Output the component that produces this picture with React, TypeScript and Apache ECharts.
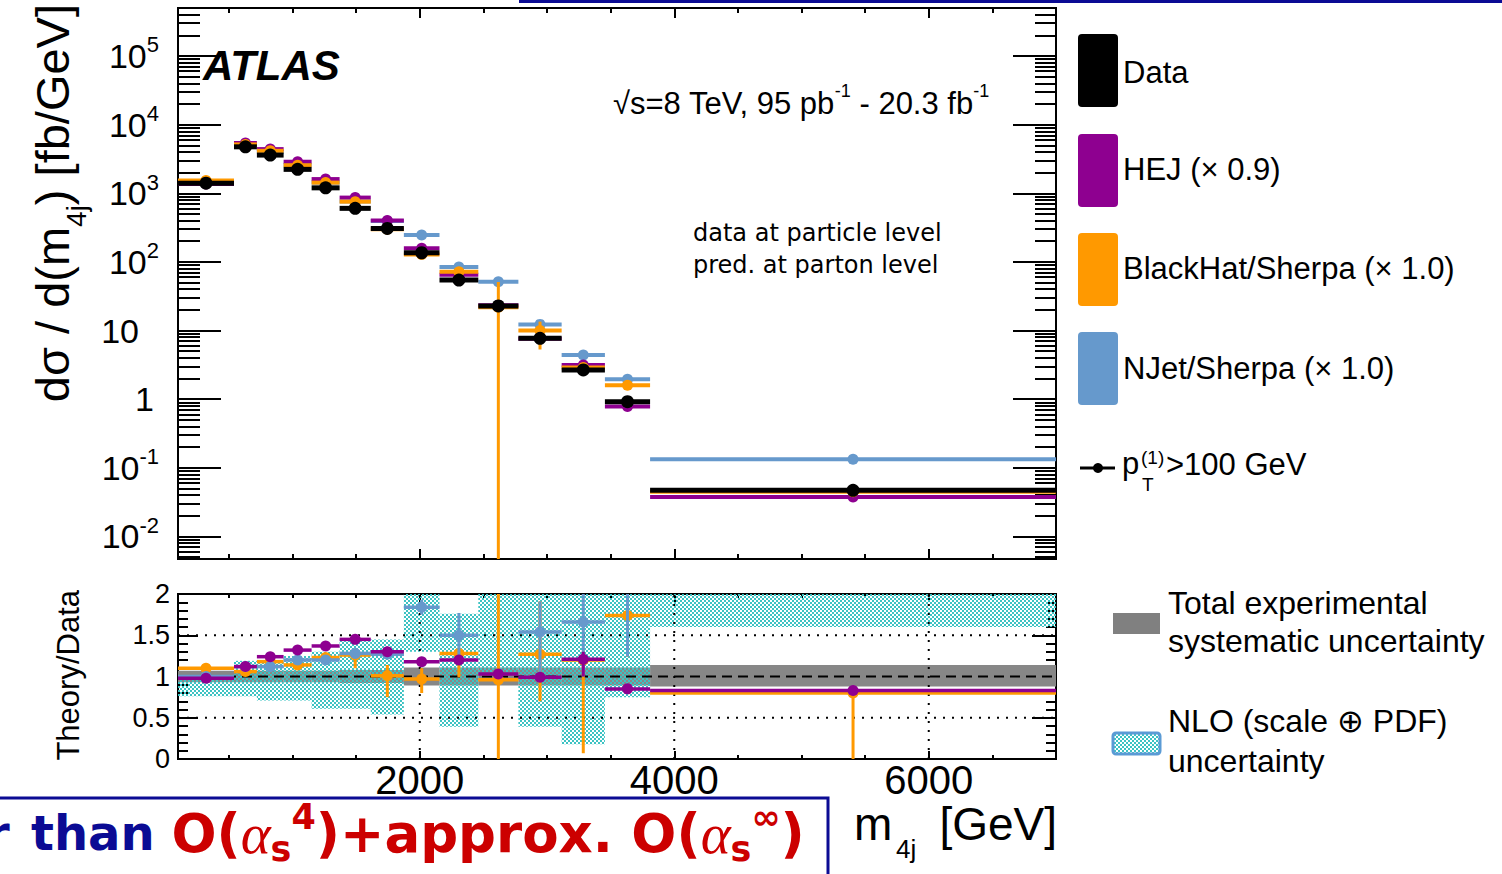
import React, { useEffect, useRef } from 'react';
import * as echarts from 'echarts';

// ---------------- data ----------------
const binEdges = [100, 540, 720, 930, 1150, 1370, 1615, 1875, 2155, 2460, 2775, 3115, 3455, 3810, 7000];

const dataXsec = [1400, 4750, 3600, 2230, 1200, 603, 308, 136, 54.5, 22.8, 7.7, 2.67, 0.92, 0.047];
const hejXsec = [1360, 5400, 4400, 2880, 1610, 865, 400, 158, 65, 23.4, 7.6, 3.16, 0.78, 0.0375];
const blackhatXsec = [1530, 5150, 4150, 2560, 1430, 755, 300, 128, 72, 21.8, 10.0, 2.9, 1.6, 0.045];
const njetXsec = [1400, 5150, 3980, 2600, 1430, 760, 395, 246, 84, 51.5, 12.3, 4.4, 1.95, 0.133];
const blackhatXsecErrLo = [null, null, null, null, null, null, null, null, 62, 0.000001, 5.3, null, null, null];
const blackhatXsecErrHi = [null, null, null, null, null, null, null, null, 76, 51, 13.5, null, null, null];

const hejRatio = [0.98, 1.12, 1.24, 1.32, 1.37, 1.45, 1.3, 1.18, 1.2, 1.03, 0.99, 1.21, 0.85, 0.83];
const hejRatioErrLo = [null, null, null, null, null, null, null, null, null, null, null, 1.0, null, null];
const hejRatioErrHi = [null, null, null, null, null, null, null, null, null, null, null, 1.3, null, null];
const blackhatRatio = [1.1, 1.06, 1.18, 1.14, 1.23, 1.26, 1.01, 0.97, 1.28, 0.96, 1.27, 1.2, 1.74, 0.8];
const blackhatRatioErrLo = [null, null, null, null, null, 1.1, 0.75, 0.8, 0.99, 0.0, 0.7, 0.07, 1.24, 0.0];
const blackhatRatioErrHi = [null, null, null, null, null, 1.3, 1.14, 1.1, 1.32, 2.1, 1.91, 1.3, 2.1, 0.82];
const njetRatio = [1.0, 1.12, 1.12, 1.2, 1.2, 1.28, 1.27, 1.84, 1.5, 2.26, 1.54, 1.66, 2.12, 2.8];
const njetRatioErrLo = [null, null, null, null, null, null, null, 1.75, 1.2, null, 1.05, 1.0, 1.24, null];
const njetRatioErrHi = [null, null, null, null, null, null, null, 1.93, 1.77, null, 1.91, 2.1, 3.0, null];

const expSystLo = [0.93, 0.93, 0.93, 0.93, 0.93, 0.92, 0.92, 0.89, 0.89, 0.89, 0.89, 0.89, 0.89, 0.88];
const expSystHi = [1.07, 1.07, 1.07, 1.07, 1.07, 1.08, 1.08, 1.11, 1.11, 1.11, 1.11, 1.11, 1.11, 1.14];
const nloLo = [0.76, 0.76, 0.71, 0.71, 0.61, 0.61, 0.54, 1.3, 0.39, 1.05, 0.39, 0.18, 0.75, 1.6];
const nloHi = [1.0, 1.19, 1.19, 1.25, 1.3, 1.45, 1.45, 2.5, 1.76, 2.5, 2.5, 2.5, 2.5, 2.5];

const xRange = [100, 7000];
const yRange = [0.0047, 500000];
const ratioRange = [0, 2];
const xMajorTicks = [2000, 4000, 6000];
const xMinorTicks = [500, 1000, 1500, 2500, 3000, 3500, 4500, 5000, 5500, 6500];
const yDecadeExponents = [-2, -1, 0, 1, 2, 3, 4, 5];
const ratioMajorTicks = [0, 0.5, 1, 1.5, 2];
const ratioMinorTicks = [0.1, 0.2, 0.3, 0.4, 0.6, 0.7, 0.8, 0.9, 1.1, 1.2, 1.3, 1.4, 1.6, 1.7, 1.8, 1.9];
const ratioGuideX = [2000, 4000, 6000];
const ratioGuideY = [0.5, 1.5];
const ratioReference = [1];

// ---------------- style ----------------
const FONT = '"Liberation Sans", Arial, Helvetica, sans-serif';
const HAND = '"DejaVu Sans", sans-serif';
const C_DATA = '#000000';
const C_HEJ = '#8e0090';
const C_BH = '#ff9900';
const C_NJ = '#6699cc';
const C_SYST = '#878787';
const C_HATCH = '#3cc3c3';
const C_BLUE = '#0b0b94';
const C_RED = '#cc0000';

const G0 = { left: 178, top: 8, width: 878, height: 551 };
const G1 = { left: 178, top: 594, width: 878, height: 165 };

const yLogMin = Math.log10(yRange[0]);
const yLogMax = Math.log10(yRange[1]);
const yMinorLog: number[] = [];
for (let e = -3; e <= 5; e++) {
  for (let k = 2; k <= 9; k++) {
    const v = Math.log10(k) + e;
    if (v > yLogMin && v < yLogMax) yMinorLog.push(v);
  }
}

function makeHatch(): any {
  const c = document.createElement('canvas');
  c.width = 4;
  c.height = 4;
  const ctx = c.getContext('2d')!;
  ctx.fillStyle = C_HATCH;
  ctx.fillRect(0, 0, 2, 2);
  ctx.fillRect(2, 2, 2, 2);
  return { image: c, repeat: 'repeat', imageWidth: 4, imageHeight: 4 };
}

function binSeries(o: any) {
  const tf = (v: number) => (o.log ? Math.log10(v) : v);
  return {
    type: 'custom',
    name: o.name,
    xAxisIndex: o.xAxisIndex,
    yAxisIndex: o.yAxisIndex,
    z: o.z,
    clip: true,
    silent: true,
    data: o.values.map((v: number, i: number) => [(binEdges[i] + binEdges[i + 1]) / 2, tf(v)]),
    encode: { x: 0, y: 1 },
    renderItem: (params: any, api: any) => {
      const i = params.dataIndex;
      const xc = (binEdges[i] + binEdges[i + 1]) / 2;
      const yv = tf(o.values[i]);
      const pL = api.coord([binEdges[i], yv]);
      const pR = api.coord([binEdges[i + 1], yv]);
      const pC = api.coord([xc, yv]);
      const children: any[] = [];
      if (o.errLo && o.errLo[i] != null && o.errHi[i] != null) {
        const a = api.coord([xc, tf(o.errLo[i])]);
        const b = api.coord([xc, tf(o.errHi[i])]);
        children.push({ type: 'line', shape: { x1: a[0], y1: a[1], x2: b[0], y2: b[1] }, style: { stroke: o.color, lineWidth: o.errWidth } });
      }
      children.push({ type: 'line', shape: { x1: pL[0], y1: pL[1], x2: pR[0], y2: pR[1] }, style: { stroke: o.color, lineWidth: o.barWidth } });
      children.push({ type: 'circle', shape: { cx: pC[0], cy: pC[1], r: o.radius }, style: { fill: o.color } });
      return { type: 'group', children };
    },
  };
}

function bandSeries(name: string, lo: number[], hi: number[], fill: any, z: number) {
  return {
    type: 'custom',
    name,
    xAxisIndex: 4,
    yAxisIndex: 4,
    z,
    clip: true,
    silent: true,
    data: lo.map((v, i) => [binEdges[i], v, binEdges[i + 1], hi[i]]),
    encode: { x: [0, 2], y: [1, 3] },
    renderItem: (params: any, api: any) => {
      const i = params.dataIndex;
      const p1 = api.coord([binEdges[i], hi[i]]);
      const p2 = api.coord([binEdges[i + 1], lo[i]]);
      return {
        type: 'rect',
        shape: { x: p1[0], y: p1[1], width: p2[0] - p1[0], height: p2[1] - p1[1] },
        style: { fill },
      };
    },
  };
}

function guideSeries(name: string, values: number[], vertical: boolean, dash: number[], z: number) {
  return {
    type: 'custom',
    name,
    xAxisIndex: 4,
    yAxisIndex: 4,
    z,
    clip: true,
    silent: true,
    data: values.map((v) => (vertical ? [v, 1] : [xRange[0], v])),
    encode: { x: 0, y: 1 },
    renderItem: (params: any, api: any) => {
      const v = values[params.dataIndex];
      const a = vertical ? api.coord([v, ratioRange[0]]) : api.coord([xRange[0], v]);
      const b = vertical ? api.coord([v, ratioRange[1]]) : api.coord([xRange[1], v]);
      return {
        type: 'line',
        shape: { x1: a[0], y1: a[1], x2: b[0], y2: b[1] },
        style: { stroke: '#000', lineWidth: 2, lineDash: dash },
      };
    },
  };
}

function xAx(gridIndex: number, position: string, ticks: number[], len: number, labels?: boolean) {
  return {
    type: 'value',
    gridIndex,
    position,
    min: xRange[0],
    max: xRange[1],
    axisLine: { show: false, onZero: false },
    axisTick: { show: true, inside: true, length: len, customValues: ticks, lineStyle: { color: '#000', width: 2 } },
    axisLabel: labels
      ? { show: true, customValues: xMajorTicks, formatter: (v: number) => String(v), fontSize: 40, fontFamily: FONT, color: '#000', margin: 1 }
      : { show: false },
    splitLine: { show: false },
  };
}

function yAx(gridIndex: number, position: string, min: number, max: number, ticks: number[], len: number, label?: any) {
  return {
    type: 'value',
    gridIndex,
    position,
    min,
    max,
    axisLine: { show: false, onZero: false },
    axisTick: { show: true, inside: true, length: len, customValues: ticks, lineStyle: { color: '#000', width: 2 } },
    axisLabel: label || { show: false },
    splitLine: { show: false },
  };
}

function txt(x: number, y: number, text: string, size: number, extra: any = {}, family = FONT) {
  return {
    type: 'text',
    x,
    y,
    silent: true,
    style: { text, fontSize: size, fontFamily: family, fill: '#000', verticalAlign: 'middle', align: 'left', ...extra },
  };
}

function buildOption(hatch: any) {
  const legendBoxes = [
    { y: 34, color: C_DATA, label: 'Data', ty: 72 },
    { y: 134, color: C_HEJ, label: 'HEJ (× 0.9)', ty: 169 },
    { y: 233, color: C_BH, label: 'BlackHat/Sherpa (× 1.0)', ty: 268 },
    { y: 332, color: C_NJ, label: 'NJet/Sherpa (× 1.0)', ty: 368 },
  ];
  const graphics: any[] = [
    { type: 'line', silent: true, shape: { x1: 519, y1: 1.5, x2: 1502, y2: 1.5 }, style: { stroke: C_BLUE, lineWidth: 3 } },
    txt(203, 65, 'ATLAS', 42, { fontWeight: 'bold', fontStyle: 'italic' }),
    {
      type: 'text', x: 613, y: 103, silent: true,
      style: {
        text: '{a|√s=8 TeV, 95 pb}{u|-1}{a| - 20.3 fb}{u|-1}',
        verticalAlign: 'middle',
        rich: {
          a: { fontSize: 31, fontFamily: FONT, fill: '#000', color: '#000' },
          u: { fontSize: 18, fontFamily: FONT, fill: '#000', color: '#000', padding: [0, 0, 24, 0] },
        },
      },
    },
    txt(693, 233, 'data at particle level', 24, {}, HAND),
    txt(693, 265, 'pred. at parton level', 24, {}, HAND),
    {
      type: 'text', x: 52, y: 4, rotation: Math.PI / 2, silent: true,
      style: {
        text: '{a|dσ / d(m}{s|4j}{a|) [fb/GeV]}',
        align: 'right', verticalAlign: 'middle',
        rich: {
          a: { fontSize: 47, fontFamily: FONT, fill: '#000', color: '#000' },
          s: { fontSize: 28, fontFamily: FONT, fill: '#000', color: '#000', lineHeight: 28, padding: [48, 0, 0, 0] },
        },
      },
    },
    { ...txt(68, 590, 'Theory/Data', 31, { align: 'right' }), rotation: Math.PI / 2 },
    txt(854, 824, 'm', 46),
    txt(896, 849, '4j', 26),
    txt(1057, 824, '[GeV]', 46, { align: 'right' }),
  ];

  legendBoxes.forEach((b) => {
    graphics.push({ type: 'rect', silent: true, shape: { x: 1078, y: b.y, width: 40, height: 73, r: 4 }, style: { fill: b.color } });
    graphics.push(txt(1123, b.ty, b.label, 31));
  });
  graphics.push({ type: 'line', silent: true, shape: { x1: 1080, y1: 468, x2: 1115, y2: 468 }, style: { stroke: '#000', lineWidth: 3 } });
  graphics.push({ type: 'circle', silent: true, shape: { cx: 1098, cy: 468, r: 5 }, style: { fill: '#000' } });
  graphics.push(txt(1122, 463, 'p', 31));
  graphics.push(txt(1141, 457, '(1)', 19));
  graphics.push(txt(1142, 484, 'T', 19));
  graphics.push(txt(1166, 464, '>100 GeV', 31));

  graphics.push({ type: 'rect', silent: true, shape: { x: 1113, y: 613, width: 47, height: 21 }, style: { fill: '#808080' } });
  graphics.push(txt(1168, 603, 'Total experimental', 32));
  graphics.push(txt(1168, 641, 'systematic uncertainty', 32));
  graphics.push({ type: 'rect', silent: true, shape: { x: 1113, y: 733, width: 47, height: 21, r: 3 }, style: { fill: hatch, stroke: '#5b9bd5', lineWidth: 3 } });
  graphics.push(txt(1168, 721, 'NLO (scale ⊕ PDF)', 32));
  graphics.push(txt(1168, 761, 'uncertainty', 32));

  // bottom box
  graphics.push({ type: 'rect', silent: true, shape: { x: -4, y: 798, width: 832, height: 90 }, style: { fill: 'none', stroke: C_BLUE, lineWidth: 3 } });
  graphics.push({
    type: 'text', x: -14, y: 833, silent: true,
    style: { text: 'r', fontSize: 48, fontWeight: 'bold', fontFamily: HAND, fill: C_BLUE, verticalAlign: 'middle' },
  });
  graphics.push({
    type: 'text', x: 31, y: 833, silent: true,
    style: {
      text: '{b|than }{r|O(}{g|α}{sub|s}{sup|4}{r|)+approx. O(}{g|α}{sub|s}{sup|∞}{r|)}',
      verticalAlign: 'middle',
      rich: {
        b: { fontSize: 48, fontWeight: 'bold', fontFamily: HAND, fill: C_BLUE, color: C_BLUE },
        r: { fontSize: 53, fontWeight: 'bold', fontFamily: HAND, fill: C_RED, color: C_RED },
        g: { fontSize: 57, fontStyle: 'italic', fontFamily: '"Liberation Serif", serif', fill: C_RED, color: C_RED },
        sub: { fontSize: 35, fontWeight: 'bold', fontFamily: HAND, fill: C_RED, color: C_RED, lineHeight: 35, padding: [32, 0, 0, 0] },
        sup: { fontSize: 35, fontWeight: 'bold', fontFamily: HAND, fill: C_RED, color: C_RED, lineHeight: 35, padding: [0, 0, 32, 0] },
      },
    },
  });

  const series: any[] = [
    binSeries({ name: 'NJet/Sherpa (× 1.0)', values: njetXsec, color: C_NJ, barWidth: 4, radius: 5.5, errWidth: 3, xAxisIndex: 0, yAxisIndex: 0, z: 4, log: true }),
    binSeries({ name: 'HEJ (× 0.9)', values: hejXsec, color: C_HEJ, barWidth: 4, radius: 5.5, errWidth: 3, xAxisIndex: 0, yAxisIndex: 0, z: 5, log: true }),
    binSeries({ name: 'BlackHat/Sherpa (× 1.0)', values: blackhatXsec, errLo: blackhatXsecErrLo, errHi: blackhatXsecErrHi, color: C_BH, barWidth: 4, radius: 5.5, errWidth: 3, xAxisIndex: 0, yAxisIndex: 0, z: 6, log: true }),
    binSeries({ name: 'Data', values: dataXsec, color: C_DATA, barWidth: 5, radius: 6.5, errWidth: 3, xAxisIndex: 0, yAxisIndex: 0, z: 7, log: true }),
    bandSeries('Total experimental systematic uncertainty', expSystLo, expSystHi, C_SYST, 1),
    bandSeries('NLO (scale ⊕ PDF) uncertainty', nloLo, nloHi, hatch, 2),
    guideSeries('grid x', ratioGuideX, true, [2, 7], 3),
    guideSeries('grid y', ratioGuideY, false, [2, 7], 3),
    guideSeries('unity', ratioReference, false, [10, 6], 3),
    binSeries({ name: 'BlackHat/Sherpa ratio', values: blackhatRatio, errLo: blackhatRatioErrLo, errHi: blackhatRatioErrHi, color: C_BH, barWidth: 3.5, radius: 5.5, errWidth: 3, xAxisIndex: 4, yAxisIndex: 4, z: 4, log: false }),
    binSeries({ name: 'NJet/Sherpa ratio', values: njetRatio, errLo: njetRatioErrLo, errHi: njetRatioErrHi, color: C_NJ, barWidth: 3.5, radius: 5.5, errWidth: 3, xAxisIndex: 4, yAxisIndex: 4, z: 5, log: false }),
    binSeries({ name: 'HEJ ratio', values: hejRatio, errLo: hejRatioErrLo, errHi: hejRatioErrHi, color: C_HEJ, barWidth: 3.5, radius: 5.5, errWidth: 3, xAxisIndex: 4, yAxisIndex: 4, z: 6, log: false }),
  ];

  const logLabel = {
    show: true,
    customValues: yDecadeExponents,
    margin: 19,
    formatter: (v: number) => {
      const e = Math.round(v);
      if (e === 0) return '{p1|1}';
      if (e === 1) return '{p10|10}';
      return '{b|10}{s|' + e + '}';
    },
    rich: {
      b: { fontSize: 34, fontFamily: FONT, color: '#000' },
      s: { fontSize: 22, fontFamily: FONT, color: '#000', padding: [0, 0, 22, 0] },
      p10: { fontSize: 34, fontFamily: FONT, color: '#000', padding: [0, 20, 0, 0] },
      p1: { fontSize: 34, fontFamily: FONT, color: '#000', padding: [0, 5, 0, 0] },
    },
  };
  const ratioLabel = {
    show: true,
    customValues: ratioMajorTicks,
    margin: 8,
    formatter: (v: number) => String(v),
    fontSize: 27,
    fontFamily: FONT,
    color: '#000',
  };

  return {
    animation: false,
    backgroundColor: '#ffffff',
    grid: [
      { ...G0, show: true, borderColor: '#000', borderWidth: 2, backgroundColor: 'transparent', containLabel: false, outerBoundsMode: 'none' },
      { ...G1, show: true, borderColor: '#000', borderWidth: 2, backgroundColor: 'transparent', containLabel: false, outerBoundsMode: 'none' },
    ],
    xAxis: [
      xAx(0, 'bottom', xMajorTicks, 10),
      xAx(0, 'bottom', xMinorTicks, 5),
      xAx(0, 'top', xMajorTicks, 10),
      xAx(0, 'top', xMinorTicks, 5),
      xAx(1, 'bottom', xMajorTicks, 8, true),
      xAx(1, 'bottom', xMinorTicks, 4),
      xAx(1, 'top', xMajorTicks, 8),
      xAx(1, 'top', xMinorTicks, 4),
    ],
    yAxis: [
      yAx(0, 'left', yLogMin, yLogMax, yDecadeExponents, 43, logLabel),
      yAx(0, 'left', yLogMin, yLogMax, yMinorLog, 22),
      yAx(0, 'right', yLogMin, yLogMax, yDecadeExponents, 43),
      yAx(0, 'right', yLogMin, yLogMax, yMinorLog, 21),
      yAx(1, 'left', ratioRange[0], ratioRange[1], ratioMajorTicks, 20, ratioLabel),
      yAx(1, 'left', ratioRange[0], ratioRange[1], ratioMinorTicks, 10),
      yAx(1, 'right', ratioRange[0], ratioRange[1], ratioMajorTicks, 24),
      yAx(1, 'right', ratioRange[0], ratioRange[1], ratioMinorTicks, 10),
    ],
    series,
    graphic: graphics,
  };
}

export default function App() {
  const ref = useRef<HTMLDivElement>(null);
  useEffect(() => {
    document.body.style.margin = '0';
    document.body.style.overflow = 'hidden';
    const chart = echarts.init(ref.current!, null, { renderer: 'svg' });
    chart.setOption(buildOption(makeHatch()) as any);
    return () => chart.dispose();
  }, []);
  return <div ref={ref} style={{ position: 'absolute', left: 0, top: 0, width: 1502, height: 874, background: '#fff' }} />;
}
